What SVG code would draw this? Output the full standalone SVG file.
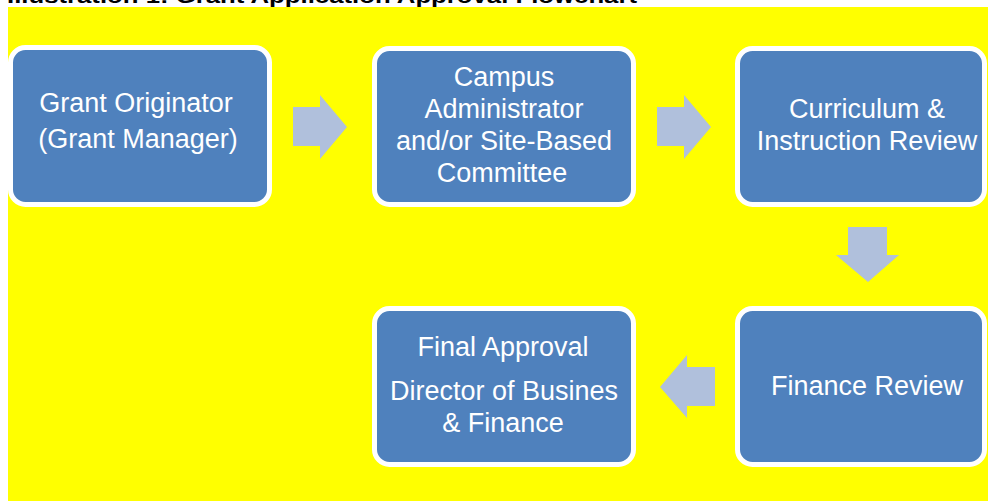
<svg xmlns="http://www.w3.org/2000/svg" width="988" height="501" viewBox="0 0 988 501">
<style>
.title{font-family:"Liberation Sans",Arial,sans-serif;font-weight:bold;font-size:21px;fill:#000}
.box{fill:#4F81BD;stroke:#FFFFFF;stroke-width:5}
.lbl{font-family:"Liberation Sans",Arial,sans-serif;font-size:27px;fill:#FFFFFF;text-anchor:middle}
.arr{fill:#B0C0DC}
</style>
<rect x="0" y="0" width="988" height="501" fill="#FFFFFF"/>
<text class="title" x="7" y="2.5" textLength="630" lengthAdjust="spacingAndGlyphs">Illustration 1: Grant Application Approval Flowchart</text>
<rect x="8" y="7" width="980" height="494" fill="#FFFF00"/>
<g id="connectors">
<polygon class="arr" points="293,107 320,107 320,95 347,127 320,159 320,146 293,146"/>
<polygon class="arr" points="657,107 684,107 684,95 711,127 684,159 684,146 657,146"/>
<polygon class="arr" points="848,227 887,227 887,255 899,255 868,282 836,255 848,255"/>
<polygon class="arr" points="715,367 687,367 687,355 660,387 687,418 687,406 715,406"/>
</g>
<g id="node-originator">
<rect class="box" x="10.5" y="47.5" width="259" height="157" rx="15"/>
<text class="lbl" x="136" y="112">Grant Originator</text>
<text class="lbl" x="138" y="148">(Grant Manager)</text>
</g>
<g id="node-campus">
<rect class="box" x="374.5" y="48.5" width="259" height="156" rx="15"/>
<text class="lbl" x="504" y="86">Campus</text>
<text class="lbl" x="504" y="118">Administrator</text>
<text class="lbl" x="504" y="150">and/or Site-Based</text>
<text class="lbl" x="502" y="182">Committee</text>
</g>
<g id="node-curriculum">
<rect class="box" x="737.5" y="48.5" width="247" height="156" rx="15"/>
<text class="lbl" x="867" y="118">Curriculum &amp;</text>
<text class="lbl" x="867" y="150">Instruction Review</text>
</g>
<g id="node-finance">
<rect class="box" x="737.5" y="308.5" width="247" height="156" rx="15"/>
<text class="lbl" x="867" y="395">Finance Review</text>
</g>
<g id="node-final">
<rect class="box" x="374.5" y="308.5" width="259" height="156" rx="15"/>
<text class="lbl" x="503" y="356">Final Approval</text>
<text class="lbl" x="504" y="400">Director of Busines</text>
<text class="lbl" x="503" y="432">&amp; Finance</text>
</g>
</svg>
